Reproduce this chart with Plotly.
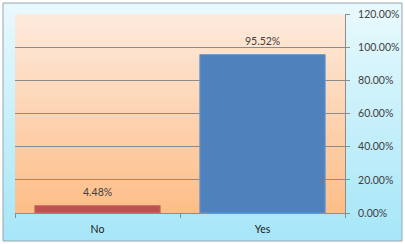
import plotly.graph_objects as go

categories = ["No", "Yes"]
values = [0.0448, 0.9552]
bar_colors = ["#c0504d", "#4f81bd"]
line_colors = ["#d0706d", "#6f9bd0"]
y_ticks = [0, 0.2, 0.4, 0.6, 0.8, 1.0, 1.2]
y_tick_labels = ["0.00%", "20.00%", "40.00%", "60.00%", "80.00%", "100.00%", "120.00%"]


def lerp(c1, c2, t):
    return "rgb(%d,%d,%d)" % tuple(round(a + (b - a) * t) for a, b in zip(c1, c2))


fig = go.Figure()
fig.add_trace(go.Bar(
    x=categories, y=values,
    marker=dict(color=bar_colors, line=dict(color=line_colors, width=1)),
    width=0.76,
))

annotations = [dict(x=c, y=v, xref="x", yref="y", text="%.2f%%" % (v * 100),
                    showarrow=False, yanchor="bottom", yshift=6,
                    font=dict(family="Lato", size=10.5, color="#404040"))
               for c, v in zip(categories, values)]


def py(pix):
    return (213 - pix) / 199.0


def px(pix):
    return (pix - 15) / 330.0


shapes = []
n = 50
top_c, bot_c = (232, 249, 253), (166, 230, 248)
for i in range(n):
    t = i / (n - 1)
    a = 3 + (241 - 3) * i / n
    b = 3 + (241 - 3) * (i + 1) / n + 0.6
    shapes.append(dict(type="rect", xref="paper", yref="paper",
                       x0=px(3), x1=px(402), y0=py(min(b, 241)), y1=py(a),
                       layer="below", line=dict(width=0),
                       fillcolor=lerp(top_c, bot_c, t)))
shapes.append(dict(type="rect", xref="paper", yref="paper",
                   x0=px(3), x1=px(402), y0=py(241), y1=py(3),
                   layer="below", line=dict(width=1, color="#9aa6ab"),
                   fillcolor="rgba(0,0,0,0)"))
m = 50
ptop, pbot = (253, 234, 220), (253, 190, 136)
for i in range(m):
    t = i / (m - 1)
    a = 1 - i / m
    b = 1 - (i + 1) / m - 0.004
    shapes.append(dict(type="rect", xref="x domain", yref="y domain",
                       x0=0, x1=1, y0=max(b, 0), y1=a,
                       layer="below", line=dict(width=0),
                       fillcolor=lerp(ptop, pbot, t)))

fig.update_layout(
    width=405, height=244,
    margin=dict(l=15, r=60, t=14, b=31),
    paper_bgcolor="rgba(0,0,0,0)",
    plot_bgcolor="rgba(0,0,0,0)",
    showlegend=False,
    bargap=0.24,
    shapes=shapes,
    annotations=annotations,
    font=dict(family="Lato", size=10, color="#404040"),
    xaxis=dict(showgrid=False, showline=True, linecolor="#8c8c8c", linewidth=1,
               ticks="outside", tickson="boundaries", ticklen=4, tickcolor="#8c8c8c",
               ticklabelstandoff=6, automargin=False,
               tickfont=dict(family="Lato", size=10.5, color="#202020")),
    yaxis=dict(side="right", range=[0, 1.2], tickvals=y_ticks, ticktext=y_tick_labels,
               showgrid=True, gridcolor="#8c8c8c", gridwidth=1,
               showline=True, linecolor="#8c8c8c", ticks="outside", ticklen=4,
               tickcolor="#8c8c8c", zeroline=False, ticklabelstandoff=6, automargin=False,
               tickfont=dict(family="Lato", size=10.5, color="#404040")),
)

fig.write_html("out.html")
